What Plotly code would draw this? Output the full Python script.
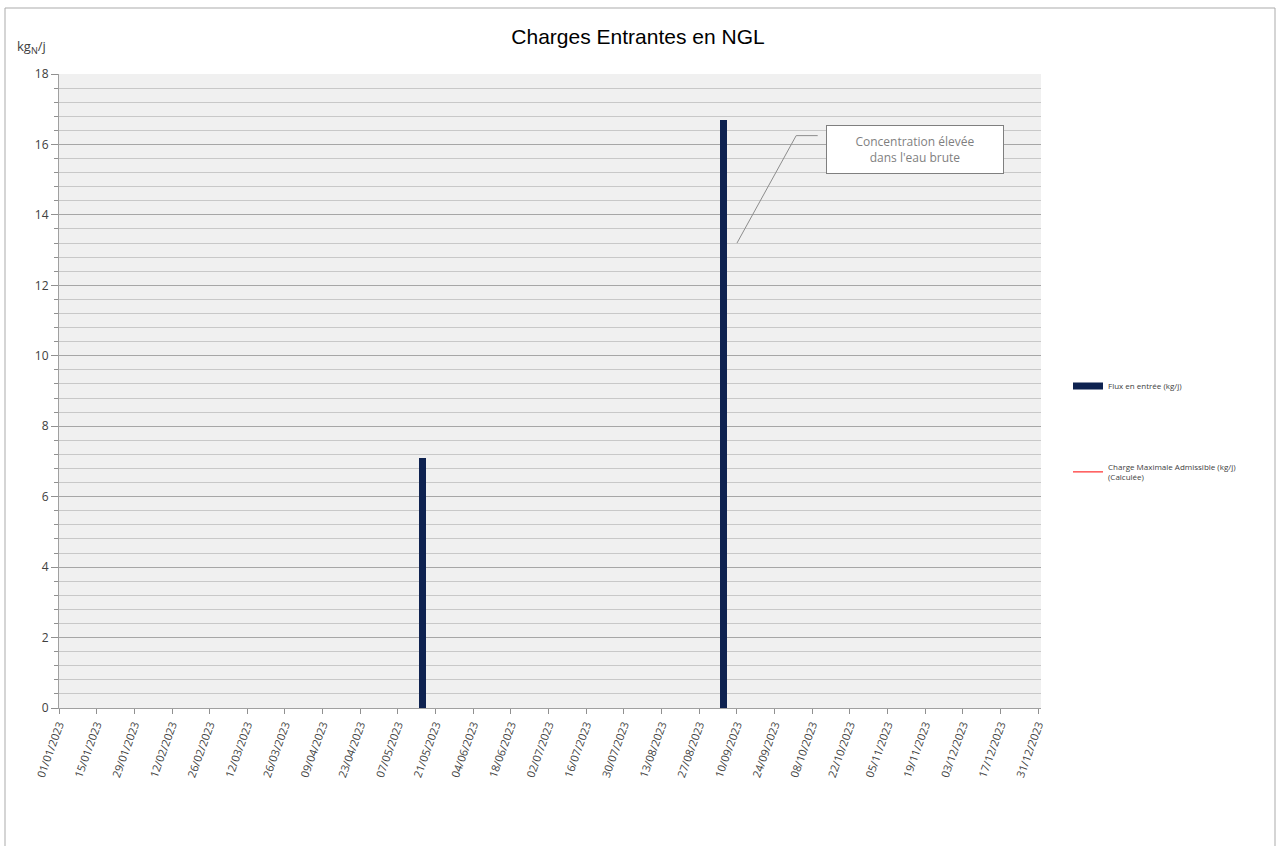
import plotly.graph_objects as go

# ---- data ----
flux_dates = ["2023-05-16", "2023-09-05"]
flux_values = [7.1, 16.7]
cma_dates = [None]
cma_values = [None]
annotation_text = "Concentration élevée<br>dans l'eau brute"

DAY_MS = 86400000
L, R, T, B = 59, 235, 74, 138
W, H = 1276, 846
PW, PH = W - L - R, H - T - B


def px_x(p):
    return (p - L) / PW


def px_y(p):
    return (H - B - p) / PH


fig = go.Figure()

fig.add_trace(go.Bar(
    x=flux_dates, y=flux_values, width=[2.6 * DAY_MS] * len(flux_dates),
    marker=dict(color="#0E2250", line=dict(width=0)),
    name="Flux en entrée (kg/j)", showlegend=False,
))
# legend entry for flux (thick line symbol)
fig.add_trace(go.Scatter(
    x=[None], y=[None], mode="lines",
    line=dict(color="#0E2250", width=7),
    name="Flux en entrée (kg/j)", legend="legend",
))
fig.add_trace(go.Scatter(
    x=cma_dates, y=cma_values, mode="lines",
    line=dict(color="#FF0000", width=1),
    name="Charge Maximale Admissible (kg/j)<br>(Calculée)", legend="legend2",
))

fig.update_layout(
    width=W, height=H,
    margin=dict(l=L, r=R, t=T, b=B),
    paper_bgcolor="white",
    plot_bgcolor="#F0F0F0",
    title=dict(text="Charges Entrantes en NGL", x=0.5, xanchor="center",
               xref="container", y=1 - 37 / H, yref="container", yanchor="middle",
               font=dict(family="Liberation Sans", size=21, color="black")),
    font=dict(family="Open Sans", size=11, color="#404040"),
    bargap=0,
    legend=dict(x=px_x(1068), y=px_y(386), xanchor="left", yanchor="middle",
                bgcolor="rgba(0,0,0,0)", font=dict(size=8, color="#404040"),
                itemwidth=30),
    legend2=dict(x=px_x(1068), y=px_y(472), xanchor="left", yanchor="middle",
                 bgcolor="rgba(0,0,0,0)", font=dict(size=8, color="#404040"),
                 itemwidth=30),
)

fig.update_xaxes(
    type="date", range=["2023-01-01", "2024-01-01"],
    tick0="2023-01-01", dtick=14 * DAY_MS, tickformat="%d/%m/%Y",
    tickangle=-70, ticks="outside", ticklen=5, tickcolor="#909090",
    showgrid=False, showline=True, linecolor="#A0A0A0", linewidth=1,
    tickfont=dict(family="Open Sans", size=11, color="#404040"),
    zeroline=False,
)
fig.update_yaxes(
    range=[0, 18], dtick=2, tick0=0,
    ticks="outside", ticklen=7, tickcolor="#909090",
    showgrid=True, gridcolor="#A6A6A6", gridwidth=1,
    showline=True, linecolor="#A0A0A0", linewidth=1,
    zeroline=False,
    tickfont=dict(family="Open Sans", size=12, color="#404040"),
    minor=dict(dtick=0.4, tick0=0, showgrid=True, gridcolor="#C8C8C8",
               gridwidth=1, ticks="outside", ticklen=4, tickcolor="#909090"),
)

# y-axis unit label
fig.add_annotation(text="kg<sub>N</sub>/j", xref="paper", yref="paper",
                   x=px_x(31), y=px_y(47), xanchor="center", yanchor="middle",
                   showarrow=False,
                   font=dict(family="Open Sans", size=13, color="#404040"))

# callout annotation
fig.add_annotation(text=annotation_text, x="2023-11-15", y=15.85,
                   showarrow=False, align="center",
                   bgcolor="white", bordercolor="#7F7F7F", borderwidth=1,
                   borderpad=7, width=162,
                   font=dict(family="Open Sans", size=12, color="#7F7F7F"))
fig.add_shape(type="line", x0="2023-09-10", y0=13.2, x1="2023-10-02", y1=16.25,
              line=dict(color="#8C8C8C", width=1))
fig.add_shape(type="line", x0="2023-10-02", y0=16.25, x1="2023-10-10", y1=16.25,
              line=dict(color="#8C8C8C", width=1))

# outer chart frame
fig.add_shape(type="rect", xref="paper", yref="paper",
              x0=px_x(5), x1=px_x(1275), y0=px_y(852), y1=px_y(8),
              line=dict(color="#ABABAB", width=1), layer="below")

fig.write_html("out.html")
